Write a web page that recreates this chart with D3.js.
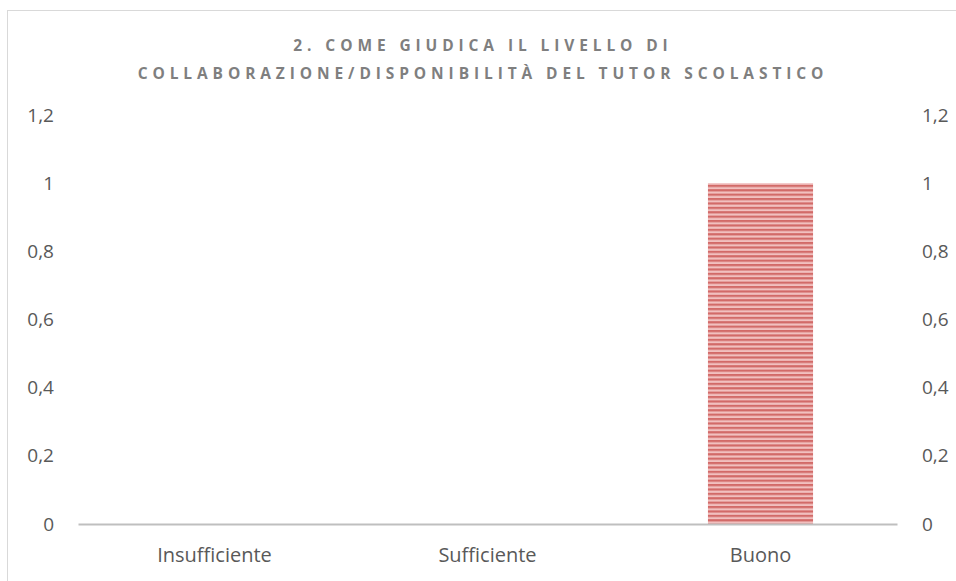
<!DOCTYPE html>
<html><head><meta charset="utf-8">
<script src="https://cdn.jsdelivr.net/npm/d3@7/dist/d3.min.js"></script>
<style>body{margin:0;background:#fff;}svg{display:block;}</style>
</head><body>
<script>
const categories = ["Insufficiente", "Sufficiente", "Buono"];
const values = [0, 0, 1];
const yTicks = [0, 0.2, 0.4, 0.6, 0.8, 1, 1.2];
const titleLines = ["2. COME GIUDICA IL LIVELLO DI", "COLLABORAZIONE/DISPONIBILITÀ DEL TUTOR SCOLASTICO"];

const W = 956, H = 581;
const svg = d3.select("body").append("svg").attr("width", W).attr("height", H);
const defs = svg.append("defs");
const pat = defs.append("pattern").attr("id","stripes").attr("patternUnits","userSpaceOnUse")
  .attr("width", 200).attr("height", 4.4);
pat.append("rect").attr("width",200).attr("height",4.4).attr("fill","#f1c0bf");
pat.append("rect").attr("y",0).attr("width",200).attr("height",2.2).attr("fill","#d26a68");

svg.append("rect").attr("x",7.5).attr("y",10.5).attr("width",960).attr("height",600)
  .attr("fill","none").attr("stroke","#d9d9d9");

const x = d3.scaleBand().domain(categories).range([78, 897]).paddingInner(0.615).paddingOuter(0.3075);
const y = d3.scaleLinear().domain([0, 1.2]).range([524, 115]);
const fmt = d => String(d).replace(".", ",");
const FONT = "'Open Sans', sans-serif";

const gl = svg.append("g").attr("transform","translate(54,0)")
  .call(d3.axisLeft(y).tickValues(yTicks).tickFormat(fmt).tickSize(0).tickPadding(0));
const gr = svg.append("g").attr("transform","translate(922,0)")
  .call(d3.axisRight(y).tickValues(yTicks).tickFormat(fmt).tickSize(0).tickPadding(0));
[gl, gr].forEach(g => {
  g.select(".domain").remove();
  g.selectAll("text").attr("font-family",FONT).attr("font-size",19).attr("fill","#595959");
});

svg.selectAll(".bar").data(values).enter().append("rect")
  .attr("x", (d,i) => x(categories[i]))
  .attr("width", x.bandwidth())
  .attr("y", d => y(d))
  .attr("height", d => y(0) - y(d))
  .attr("fill", "url(#stripes)");

const gx = svg.append("g").attr("transform","translate(0,524)")
  .call(d3.axisBottom(x).tickSize(0).tickPadding(24));
gx.select(".domain").attr("stroke","#bfbfbf").attr("stroke-width",2);
gx.selectAll("text").attr("font-family",FONT).attr("font-size",20).attr("fill","#595959");

svg.append("g").selectAll("text").data(titleLines).enter().append("text")
  .attr("x", 483).attr("y", (d,i) => 51 + i*28)
  .attr("text-anchor","middle")
  .attr("font-family",FONT).attr("font-weight","bold")
  .attr("font-size",15.5).attr("letter-spacing","4.9px").attr("fill","#7f7f7f")
  .text(d => d);
</script>
</body></html>
